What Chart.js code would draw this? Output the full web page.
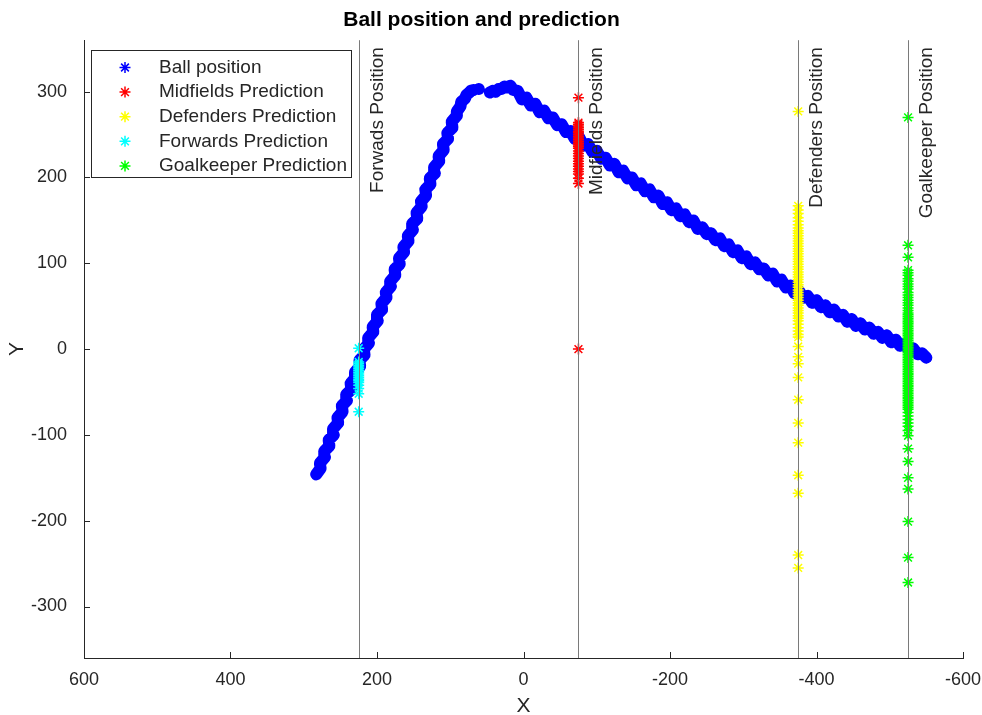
<!DOCTYPE html>
<html>
<head>
<meta charset="utf-8">
<title>Ball position and prediction</title>
<script src="https://cdn.jsdelivr.net/npm/chart.js@4.4.1/dist/chart.umd.min.js"></script>
<style>
  html, body { margin: 0; padding: 0; background: #ffffff; }
  #wrap { width: 982px; height: 715px; }
</style>
</head>
<body>
<div id="wrap"><canvas id="chart" width="982" height="715"></canvas></div>
<script>
// ---- tick values -------------------------------------------------------
const xTickValues = [600, 400, 200, 0, -200, -400, -600];
const yTickValues = [-300, -200, -100, 0, 100, 200, 300];

// ---- player lines ------------------------------------------------------
const linePositions = [225, -75, -375, -525];
const lineLabels = ['Forwads Position', 'Midfields Position', 'Defenders Position', 'Goalkeeper Position'];

// ---- series names ------------------------------------------------------
const seriesNames = ['Ball position', 'Midfields Prediction', 'Defenders Prediction', 'Forwards Prediction', 'Goalkeeper Prediction'];

// ---- ball track (x, y); null marks a break in the track ----------------
const ballX = [
  283, 277, 278, 271, 272, 265, 266, 259, 260, 253, 254, 247, 248, 241, 242, 235, 236, 229, 230, 223,
  224, 217, 218, 211, 212, 205, 206, 199, 200, 193, 194, 187, 188, 181, 182, 175, 176, 169, 170, 163,
  164, 157, 158, 151, 152, 145, 146, 139, 140, 133, 134, 127, 128, 121, 122, 115, 116, 109, 110, 103,
  104, 97, 98, 91, 91, 86, 85, 80, 78, 74, 72, 68,
  null, 61, null,
  46, 42, 38, 34, 30, 26, 22, 18, 14,
  8, 2, -4, -10, -16, -22, -28, -34, -40, -46, -52, -58, -64, -70, -76, -82, -88, -94, -100, -106,
  -112, -118, -124, -130, -136, -142, -148, -154, -160, -166, -172, -178, -184, -190, -196, -202, -208, -214, -220, -226,
  -232, -238, -244, -250, -256, -262, -268, -274, -280, -286, -292, -298, -304, -310, -316, -322, -328, -334, -340, -346,
  -352, -358, -364, -370, -376, -382, -388, -394, -400, -406, -412, -418, -424, -430, -436, -442, -448, -454, -460, -466,
  -472, -478, -484, -490, -496, -502, -508, -514, -520, -526, -532, -538, -544, -550
];
const ballY = [
  -146, -139, -133, -126, -119, -113, -106, -100, -93, -86, -80, -73, -66, -60, -53, -47, -40, -33, -27, -20,
  -13, -7, 0, 7, 13, 20, 26, 33, 40, 46, 53, 60, 66, 73, 79, 86, 93, 99, 106, 113,
  119, 126, 132, 139, 146, 152, 159, 166, 172, 179, 186, 192, 199, 205, 212, 219, 225, 232, 239, 245,
  252, 258, 265, 272, 277, 283, 288, 292, 296, 299, 301, 302,
  null, 303, null,
  299, 301, 300, 303, 303, 306, 305, 307, 302,
  301, 291, 293, 284, 286, 276, 278, 269, 270, 261, 262, 253, 254, 245, 247, 237, 239, 230, 231, 222,
  223, 214, 216, 206, 208, 199, 200, 191, 193, 184, 186, 177, 179, 169, 171, 162, 164, 155, 157, 148,
  150, 140, 142, 134, 135, 127, 129, 120, 122, 113, 115, 106, 108, 99, 101, 93, 94, 86, 88, 79,
  81, 72, 74, 65, 68, 60, 62, 54, 57, 49, 51, 43, 46, 38, 40, 32, 35, 27, 30, 23,
  25, 18, 20, 13, 16, 8, 11, 4, 6, -1, 1, -6, -5, -10
];

// ---- predictions (y at each player line) -------------------------------
const midfieldsY = [
  293, 264, 262, 260, 258, 256, 254, 252, 250, 248, 246, 244, 242, 240, 238, 236, 234,
  231, 228, 225, 222, 219, 216, 213, 210, 207, 204, 199, 193, 0
];
const defendersY = [
  277, 167, 162, 158, 153, 149, 145, 141, 138, 135, 132, 129, 126, 123, 120, 117, 114, 111, 108, 105,
  102, 99, 96, 93, 90, 87, 84, 81, 78, 75, 72, 69, 66, 63, 60, 57, 54, 51, 48, 45,
  42, 39, 36, 33, 29, 25, 21, 17, 14, 3, -9, -17, -33, -59, -86, -109, -147, -168, -240, -255
];
const forwardsY = [1, -15, -17, -19, -21, -23, -25, -27, -29, -31, -33, -35, -37, -39, -42, -46, -52, -73];
const goalkeeperY = [
  270, 121, 107, 92, 89, 86, 82, 79, 76, 73, 70, 66, 63, 60, 57, 54, 51, 48, 45, 42,
  40, 38, 36, 34, 32, 30, 28, 26, 24, 22, 20, 18, 16, 14, 12, 10, 8, 6, 4, 2,
  0, -2, -4, -6, -8, -10, -12, -14, -16, -18, -20, -22, -24, -26, -28, -30, -32, -34, -36, -38,
  -40, -42, -44, -46, -48, -50, -52, -54, -56, -58, -60, -62, -64, -66, -68, -70, -74, -78, -82, -86,
  -90, -95, -101, -116, -131, -150, -163, -201, -243, -272
];

// ---- styling -----------------------------------------------------------
const FONT = '"Liberation Sans", Arial, Helvetica, sans-serif';
const AXIS_COLOR = '#262626';
const colors = ['#0000ff', '#ff0000', '#ffff00', '#00ffff', '#00ff00'];
const STAR_RADIUS = 5.5;
const STAR_WIDTH = 1.5;

Chart.defaults.font.family = FONT;

function pointsAt(xValue, ys) {
  return ys.map(y => ({ x: xValue, y: y }));
}

function starSet(label, data, color, order) {
  return {
    label: label,
    data: data,
    order: order,
    showLine: false,
    pointStyle: 'star',
    pointRadius: STAR_RADIUS,
    pointBorderWidth: STAR_WIDTH,
    pointBorderColor: color,
    pointBackgroundColor: color,
    borderColor: color,
    backgroundColor: color
  };
}

// the ball track is dense enough to read as a solid band
const ballSet = starSet(seriesNames[0], ballX.map((x, i) => ({ x: x, y: ballY[i] })), colors[0], 1);
ballSet.showLine = true;
ballSet.spanGaps = false;
ballSet.borderWidth = 12;
ballSet.borderJoinStyle = 'round';
ballSet.borderCapStyle = 'round';
ballSet.tension = 0;

const datasets = [
  ballSet,
  starSet(seriesNames[1], pointsAt(linePositions[1], midfieldsY), colors[1], 0),
  starSet(seriesNames[2], pointsAt(linePositions[2], defendersY), colors[2], 0),
  starSet(seriesNames[3], pointsAt(linePositions[0], forwardsY), colors[3], 0),
  starSet(seriesNames[4], pointsAt(linePositions[3], goalkeeperY), colors[4], 0)
];

// vertical player lines with their rotated captions
const playerLines = {
  id: 'playerLines',
  afterDatasetsDraw(chart) {
    const { ctx, chartArea, scales } = chart;
    ctx.save();
    linePositions.forEach((xv, i) => {
      const px = Math.round(scales.x.getPixelForValue(xv)) + 0.5;
      ctx.strokeStyle = '#7a7a7a';
      ctx.lineWidth = 1;
      ctx.beginPath();
      ctx.moveTo(px, chartArea.top);
      ctx.lineTo(px, chartArea.bottom);
      ctx.stroke();

      ctx.save();
      ctx.translate(px + 18.5, chartArea.top + 7);
      ctx.rotate(-Math.PI / 2);
      ctx.fillStyle = AXIS_COLOR;
      ctx.font = '19px ' + FONT;
      ctx.textAlign = 'right';
      ctx.textBaseline = 'middle';
      ctx.fillText(lineLabels[i], 0, 0);
      ctx.restore();
    });
    ctx.restore();
  }
};

// inward tick marks and the boxed legend
const axesExtras = {
  id: 'axesExtras',
  afterDraw(chart) {
    const { ctx, chartArea, scales } = chart;
    ctx.save();
    ctx.strokeStyle = AXIS_COLOR;
    ctx.lineWidth = 1;
    ctx.beginPath();
    scales.x.ticks.forEach((t, i) => {
      const px = Math.round(scales.x.getPixelForTick(i)) + 0.5;
      ctx.moveTo(px, chartArea.bottom);
      ctx.lineTo(px, chartArea.bottom - 6);
    });
    scales.y.ticks.forEach((t, i) => {
      const py = Math.round(scales.y.getPixelForTick(i)) + 0.5;
      ctx.moveTo(chartArea.left, py);
      ctx.lineTo(chartArea.left + 6, py);
    });
    ctx.stroke();

    // legend box
    const bx = 91.5, by = 50.5, bw = 260, bh = 127;
    ctx.fillStyle = '#ffffff';
    ctx.fillRect(bx, by, bw, bh);
    ctx.strokeStyle = AXIS_COLOR;
    ctx.lineWidth = 1;
    ctx.strokeRect(bx, by, bw, bh);
    ctx.font = '19px ' + FONT;
    ctx.textAlign = 'left';
    ctx.textBaseline = 'middle';
    chart.data.datasets.forEach((ds, i) => {
      const cy = 67.5 + i * 24.6;
      ctx.fillStyle = AXIS_COLOR;
      ctx.fillText(ds.label, 159, cy);
      ctx.strokeStyle = ds.pointBorderColor;
      ctx.fillStyle = ds.pointBackgroundColor;
      ctx.lineWidth = STAR_WIDTH;
      Chart.helpers.drawPoint(ctx, {
        pointStyle: 'star', radius: STAR_RADIUS, borderWidth: STAR_WIDTH, rotation: 0
      }, 125, cy);
    });
    ctx.restore();
  }
};

new Chart(document.getElementById('chart'), {
  type: 'scatter',
  data: { datasets: datasets },
  options: {
    responsive: false,
    animation: false,
    events: [],
    layout: { padding: { left: 0, right: 19, top: 0, bottom: 0 } },
    plugins: {
      legend: { display: false },
      tooltip: { enabled: false },
      title: {
        display: true,
        text: 'Ball position and prediction',
        color: '#000000',
        font: { family: FONT, size: 21, weight: 'bold', lineHeight: 1.2 },
        padding: { top: 8, bottom: 7 }
      }
    },
    scales: {
      x: {
        type: 'linear',
        reverse: true,
        min: -600,
        max: 600,
        afterBuildTicks(scale) { scale.ticks = xTickValues.map(v => ({ value: v })); },
        afterFit(scale) { scale.height = 57; scale.paddingLeft = 0; scale.paddingRight = 0; },
        grid: { display: false, drawTicks: false },
        border: { display: true, color: AXIS_COLOR, width: 1 },
        ticks: { padding: 11, color: AXIS_COLOR, font: { family: FONT, size: 18 }, maxRotation: 0, autoSkip: false },
        title: {
          display: true, text: 'X', color: AXIS_COLOR,
          font: { family: FONT, size: 21, lineHeight: 1 },
          padding: { top: 0, bottom: -2 }
        }
      },
      y: {
        type: 'linear',
        min: -360,
        max: 360,
        afterBuildTicks(scale) { scale.ticks = yTickValues.map(v => ({ value: v })); },
        afterFit(scale) { scale.width = 84; scale.paddingTop = 0; scale.paddingBottom = 0; },
        grid: { display: false, drawTicks: false },
        border: { display: true, color: AXIS_COLOR, width: 1 },
        ticks: { padding: 17, color: AXIS_COLOR, font: { family: FONT, size: 18 }, autoSkip: false },
        title: {
          display: true, text: 'Y', color: AXIS_COLOR,
          font: { family: FONT, size: 21, lineHeight: 1 },
          padding: { top: 7, bottom: 0 }
        }
      }
    }
  },
  plugins: [playerLines, axesExtras]
});
</script>
</body>
</html>
